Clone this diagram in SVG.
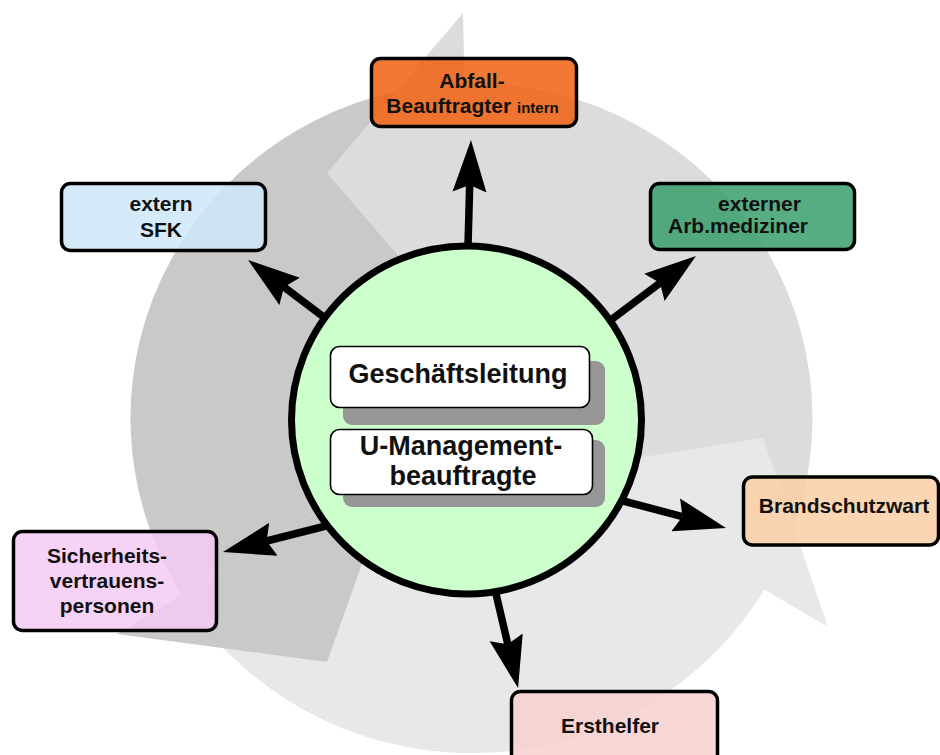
<svg xmlns="http://www.w3.org/2000/svg" width="940" height="755" viewBox="0 0 940 755">
  <style>
    .dark { fill: #c9c9c9; }
    .mid { fill: #dcdcdc; }
    .light { fill: #e8e8e8; }
    .box { stroke: #000; stroke-width: 3.5; fill-opacity: 0.85; }
    .lbl { font-family: "Liberation Sans", Arial, sans-serif; font-weight: bold; font-size: 21px; fill: #111; text-anchor: middle; }
    .big { font-size: 27px; }
    .inner { fill: #fff; stroke: #000; stroke-width: 1.6; }
    .shadow { fill: #969696; }
    .conn { stroke: #000; stroke-width: 7.5; fill: none; marker-end: url(#head); }
  </style>
  <defs>
    <marker id="head" markerUnits="userSpaceOnUse" markerWidth="56" markerHeight="36" viewBox="0 0 56 36" refX="7" refY="18" orient="auto">
      <path d="M0,1 L52,18 L0,35 L7,18 Z" fill="#000"/>
    </marker>
  </defs>
  <rect width="940" height="755" fill="#fff"/>

  <g id="cycle-background">
    <path class="mid" d="M471.5,418 L764.3,589.7 A341,335 0 0 0 464.5,83.1 Z"/>
    <path class="light" d="M471.5,418 L181.7,594.6 A341,335 0 0 0 764.3,589.7 Z"/>
    <path class="dark" d="M471.5,418 L464.5,83.1 A341,335 0 0 0 181.7,594.6 Z"/>
    <polygon class="mid" points="463,13 327,173 469.8,339"/>
    <polygon class="light" points="828,627 763,438 560.4,470.1"/>
    <polygon class="dark" points="117,634 327,662 398,462.8"/>
  </g>

  <g id="center-circle">
    <ellipse cx="466.5" cy="420" rx="175" ry="174" fill="#ccffcc" stroke="#000" stroke-width="7"/>
  </g>

  <g id="connectors">
    <line class="conn" x1="468" y1="245" x2="469.7" y2="185"/>
    <line class="conn" x1="325" y1="318" x2="284" y2="287.1"/>
    <line class="conn" x1="610.2" y1="320.6" x2="660" y2="283.1"/>
    <line class="conn" x1="621.2" y1="500.5" x2="682.5" y2="516.6"/>
    <line class="conn" x1="495.6" y1="592.2" x2="507.8" y2="644.2"/>
    <line class="conn" x1="327.8" y1="525.5" x2="266.6" y2="541"/>
  </g>

  <g id="node-geschaeftsleitung">
    <rect class="shadow" x="343" y="361" width="262" height="64" rx="9"/>
    <rect class="inner" x="330.5" y="346.5" width="259" height="61" rx="9"/>
    <text class="lbl big" x="458" y="383">Geschäftsleitung</text>
  </g>

  <g id="node-u-management">
    <rect class="shadow" x="343" y="440" width="262" height="67" rx="9"/>
    <rect class="inner" x="330.5" y="429.5" width="262" height="65" rx="9"/>
    <text class="lbl big" x="461" y="455">U-Management-</text>
    <text class="lbl big" x="463" y="485">beauftragte</text>
  </g>

  <g id="node-abfall">
    <rect class="box" x="371.5" y="58.5" width="205" height="68" rx="9" fill="#f16010"/>
    <text class="lbl" x="472" y="88">Abfall-</text>
    <text class="lbl" x="472.5" y="113">Beauftragter <tspan font-size="15">intern</tspan></text>
  </g>

  <g id="node-sfk">
    <rect class="box" x="61.5" y="183.5" width="204" height="67" rx="9" fill="#cee7f9"/>
    <text class="lbl" x="161" y="211">extern</text>
    <text class="lbl" x="161" y="237">SFK</text>
  </g>

  <g id="node-arbmediziner">
    <rect class="box" x="650.5" y="183.5" width="204" height="66" rx="9" fill="#3a9f6c"/>
    <text class="lbl" x="759.5" y="211">externer</text>
    <text class="lbl" x="738" y="233">Arb.mediziner</text>
  </g>

  <g id="node-brandschutzwart">
    <rect class="box" x="743.5" y="477" width="195" height="68" rx="9" fill="#fccfa5"/>
    <text class="lbl" x="844" y="513">Brandschutzwart</text>
  </g>

  <g id="node-ersthelfer">
    <rect class="box" x="511.5" y="691.5" width="206" height="80" rx="9" fill="#f9d0d0"/>
    <text class="lbl" x="610" y="733">Ersthelfer</text>
  </g>

  <g id="node-sicherheit">
    <rect class="box" x="13.5" y="531.5" width="203" height="99" rx="9" fill="#f5caf5"/>
    <text class="lbl" x="107" y="563">Sicherheits-</text>
    <text class="lbl" x="107" y="588">vertrauens-</text>
    <text class="lbl" x="107" y="613">personen</text>
  </g>
</svg>
